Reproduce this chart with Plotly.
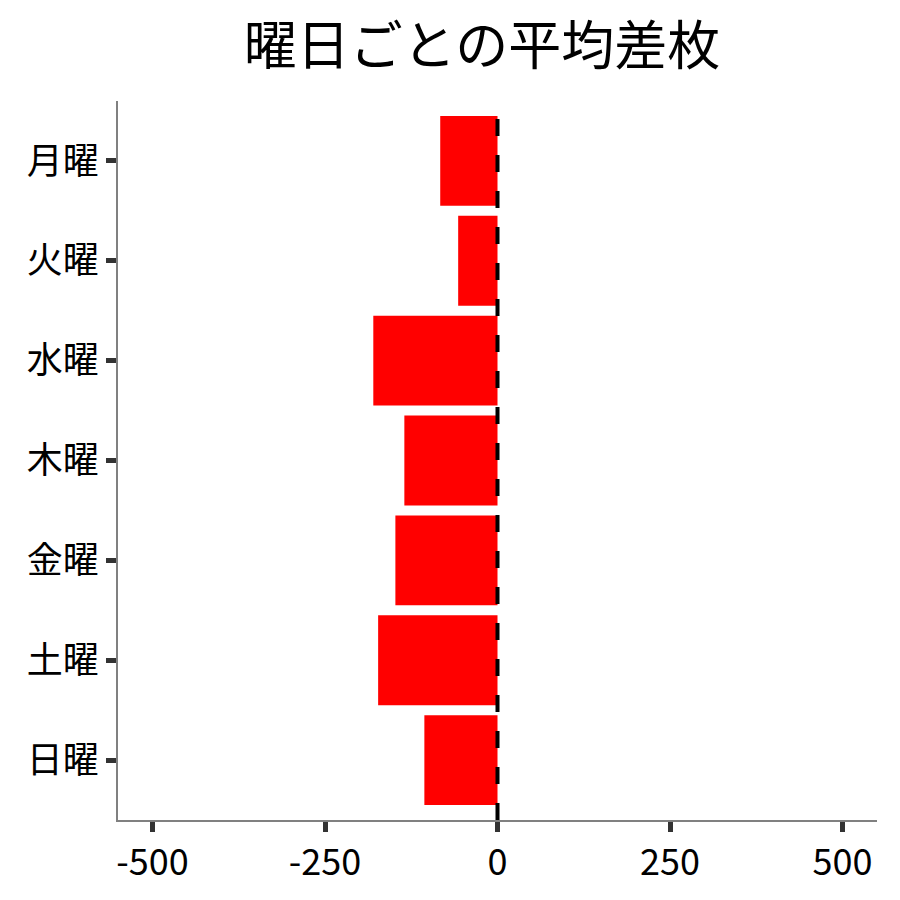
import plotly.graph_objects as go

days = ['月曜', '火曜', '水曜', '木曜', '金曜', '土曜', '日曜']
avg_diff = [-83, -57, -180, -135, -148, -173, -106]
x_ticks = [-500, -250, 0, 250, 500]

FONT = 'Noto Sans CJK JP'
# the page body adds an 8px offset, so the margins are shifted to compensate
OFF = 8

fig = go.Figure(data=go.Bar(
    x=avg_diff,
    y=days,
    orientation='h',
    width=0.9,
    marker=dict(color='#ff0000', line=dict(width=0)),
))

# dashed reference line at zero
fig.add_shape(
    type='line', xref='x', yref='paper',
    x0=0, x1=0, y0=0, y1=1,
    line=dict(color='black', width=4, dash='17px,19px'),
)

axis_style = dict(
    showgrid=False,
    zeroline=False,
    showline=True,
    linecolor='#808080',
    linewidth=2,
    ticks='outside',
    ticklen=10,
    tickwidth=4.5,
    tickcolor='#333333',
    tickfont=dict(family=FONT, size=36, color='black'),
)

fig.update_layout(
    width=900,
    height=900,
    template=None,
    paper_bgcolor='white',
    plot_bgcolor='white',
    showlegend=False,
    font=dict(family=FONT, color='black'),
    title=dict(
        text='曜日ごとの平均差枚',
        font=dict(family=FONT, size=53, color='black'),
        x=(482 - OFF) / 900, xanchor='center',
        y=1 - (46 - OFF) / 900, yanchor='middle',
    ),
    margin=dict(l=118 - OFF, r=23 + OFF, t=101 - OFF, b=80 + OFF),
    xaxis=dict(
        range=[-550, 550],
        tickvals=x_ticks,
        ticktext=[str(v) for v in x_ticks],
        **axis_style,
    ),
    yaxis=dict(
        type='category',
        categoryorder='array',
        categoryarray=days,
        range=[6.6, -0.6],
        **axis_style,
    ),
)

fig.write_html("out.html")
